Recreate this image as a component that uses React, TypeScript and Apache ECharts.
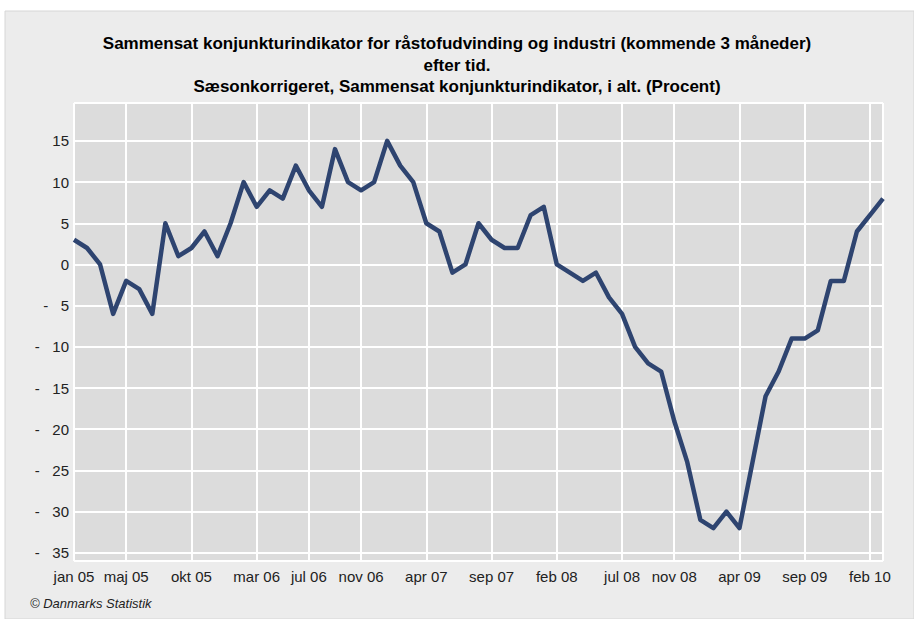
import React, { useEffect, useRef } from "react";
import * as echarts from "echarts";

const MONTHS = ["jan", "feb", "mar", "apr", "maj", "jun", "jul", "aug", "sep", "okt", "nov", "dec"];
const START_YEAR = 2005;
const N_MONTHS = 63; // jan 05 .. mar 10

const categories: string[] = Array.from({ length: N_MONTHS }, (_, i) => {
  const m = i % 12;
  const y = START_YEAR + Math.floor(i / 12);
  return `${MONTHS[m]} ${String(y % 100).padStart(2, "0")}`;
});

const values: number[] = [
  3, 2, 0, -6, -2, -3, -6, 5, 1, 2, 4, 1,
  5, 10, 7, 9, 8, 12, 9, 7, 14, 10, 9, 10,
  15, 12, 10, 5, 4, -1, 0, 5, 3, 2, 2, 6,
  7, 0, -1, -2, -1, -4, -6, -10, -12, -13, -19, -24,
  -31, -32, -30, -32, -24, -16, -13, -9, -9, -8, -2, -2,
  4, 6, 8,
];

const labelIndexes: number[] = [0, 4, 9, 14, 18, 22, 27, 32, 37, 42, 46, 51, 56, 61];
const gridIndexes: number[] = [...labelIndexes, 62];

const titleLines: string[] = [
  "Sammensat konjunkturindikator for råstofudvinding og industri (kommende 3 måneder)",
  "efter tid.",
  "Sæsonkorrigeret, Sammensat konjunkturindikator, i alt. (Procent)",
];

const footer = "© Danmarks Statistik";

export default function App() {
  const ref = useRef<HTMLDivElement>(null);

  useEffect(() => {
    if (!ref.current) return;
    const chart = echarts.init(ref.current, undefined, { renderer: "svg" });
    const font = "'Liberation Sans', Arial, Helvetica, sans-serif";
    chart.setOption({
      animation: false,
      backgroundColor: "#ffffff",
      textStyle: { fontFamily: font },
      graphic: [
        {
          type: "rect",
          z: -10,
          silent: true,
          shape: { x: 5, y: 11, width: 909, height: 608 },
          style: { fill: "#ececec", stroke: "#d6d6d6", lineWidth: 1 },
        },
        ...titleLines.map((t, i) => ({
          type: "text",
          left: "center",
          top: 35 + i * 21.5,
          style: {
            text: t,
            font: `bold 17px ${font}`,
            fill: "#000000",
          },
        })),
        {
          type: "text",
          left: 30,
          top: 597,
          style: {
            text: footer,
            font: `italic 13px ${font}`,
            fill: "#222222",
          },
        },
      ],
      grid: {
        left: 74,
        right: 31,
        top: 103,
        bottom: 58,
        show: true,
        backgroundColor: "#dcdcdc",
        borderWidth: 0,
        containLabel: false,
      },
      xAxis: {
        type: "category",
        data: categories,
        boundaryGap: false,
        axisLine: { show: false },
        axisTick: { show: false },
        axisLabel: {
          interval: (idx: number) => labelIndexes.includes(idx),
          color: "#222222",
          fontSize: 15,
          fontFamily: font,
          margin: 8,
          hideOverlap: false,
        },
        splitLine: {
          show: true,
          interval: (idx: number) => gridIndexes.includes(idx),
          lineStyle: { color: "#ffffff", width: 2 },
        },
      },
      yAxis: {
        type: "value",
        min: -36,
        max: 19.6,
        splitNumber: 11,
        minInterval: 5,
        maxInterval: 5,
        axisLine: { show: false },
        axisTick: { show: false },
        axisLabel: {
          color: "#222222",
          fontSize: 15,
          fontFamily: font,
          margin: 5,
          showMinLabel: false,
          showMaxLabel: false,
          formatter: (v: number) => {
            if (Math.abs(v % 5) > 1e-6) return "";
            return v < 0 ? `-   ${Math.abs(v)}` : `${v}`;
          },
        },
        splitLine: { show: true, lineStyle: { color: "#ffffff", width: 2 } },
      },
      series: [
        {
          type: "line",
          data: values,
          symbol: "none",
          lineStyle: { color: "#2e4470", width: 4.5, join: "round" },
        },
      ],
    });
    return () => chart.dispose();
  }, []);

  return (
    <div
      ref={ref}
      style={{ position: "absolute", left: 0, top: 0, width: 914, height: 619 }}
    />
  );
}
